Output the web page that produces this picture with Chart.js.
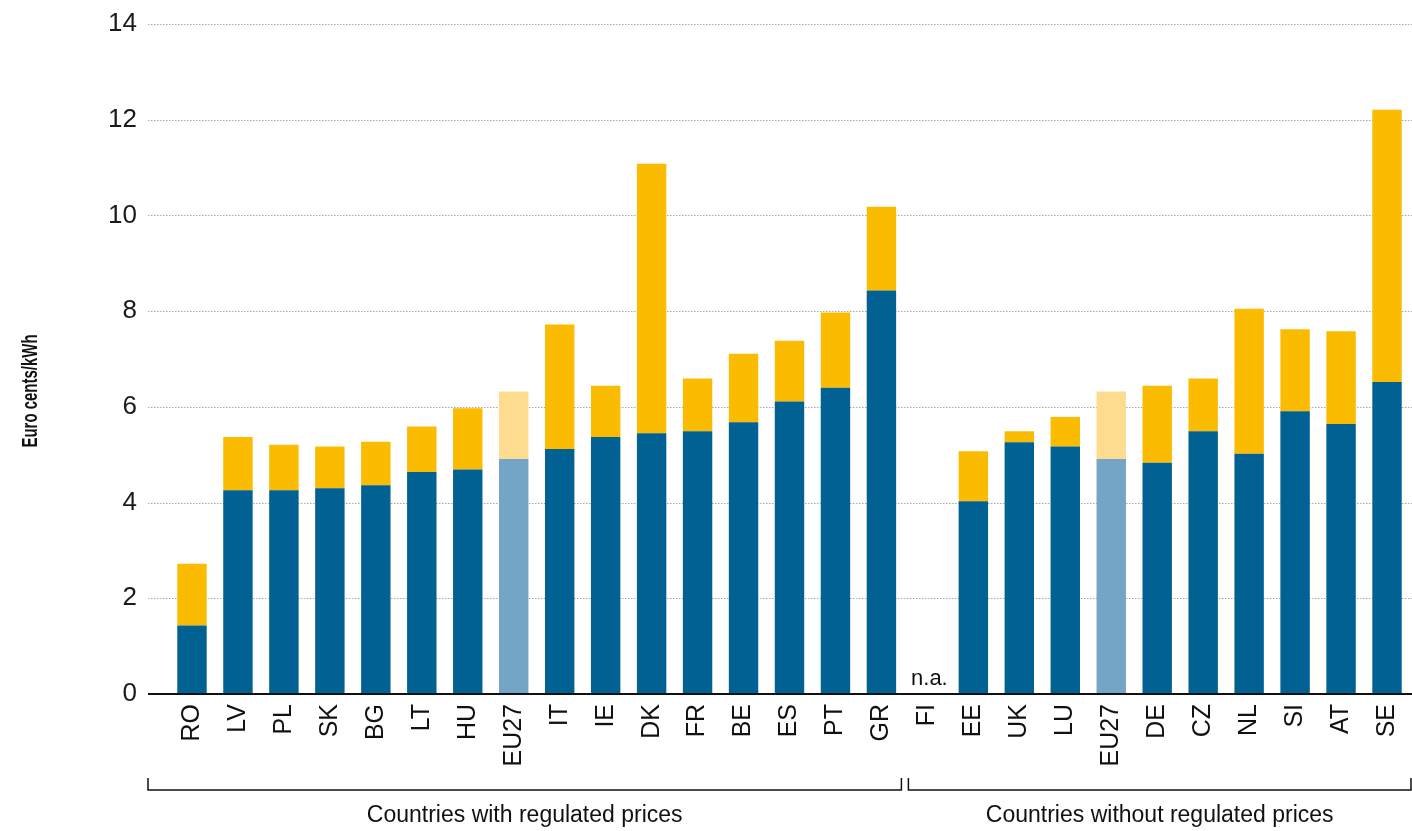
<!DOCTYPE html>
<html>
<head>
<meta charset="utf-8">
<script src="https://cdn.jsdelivr.net/npm/chart.js@4/dist/chart.umd.min.js"></script>
<style>
  html, body { margin: 0; padding: 0; background: #fff; }
  #wrap { width: 1412px; height: 831px; }
</style>
</head>
<body>
<div id="wrap"><canvas id="priceChart"></canvas></div>
<script>
// values (euro cents/kWh)
const countries = ['RO', 'LV', 'PL', 'SK', 'BG', 'LT', 'HU', 'EU27', 'IT', 'IE', 'DK', 'FR', 'BE', 'ES', 'PT', 'GR',
  'FI', 'EE', 'UK', 'LU', 'EU27', 'DE', 'CZ', 'NL', 'SI', 'AT', 'SE'];
const lowerPart = [1.43, 4.26, 4.26, 4.30, 4.36, 4.64, 4.69, 4.91, 5.12, 5.37, 5.45, 5.49, 5.68, 6.11, 6.40, 8.43,
  null, 4.03, 5.26, 5.17, 4.91, 4.83, 5.49, 5.02, 5.91, 5.64, 6.52];
const upperPart = [1.29, 1.11, 0.95, 0.87, 0.91, 0.95, 1.28, 1.41, 2.60, 1.07, 5.63, 1.10, 1.43, 1.27, 1.57, 1.75,
  null, 1.04, 0.23, 0.62, 1.41, 1.61, 1.10, 3.03, 1.71, 1.94, 5.69];
const yTicks = [0, 2, 4, 6, 8, 10, 12, 14];
const yTitle = 'Euro cents/kWh';
const groups = [
  { label: 'Countries with regulated prices', from: 0, to: 15 },
  { label: 'Countries without regulated prices', from: 16, to: 26 }
];
const naLabel = 'n.a.';

const FONT = "'Liberation Sans', Arial, sans-serif";
const NARROW = "'Liberation Sans Narrow', 'Arial Narrow', 'Liberation Sans', sans-serif";
const blue = countries.map(c => c === 'EU27' ? '#74a5c6' : '#006192');
const yellow = countries.map(c => c === 'EU27' ? '#fedc8f' : '#fbbb00');

const extras = {
  id: 'extras',
  beforeDatasetsDraw(chart) {
    const { ctx, scales: { y } } = chart;
    ctx.save();
    ctx.strokeStyle = '#a8a8a8';
    ctx.lineWidth = 1;
    ctx.setLineDash([1.5, 1.5]);
    yTicks.forEach(v => {
      if (v === 0) return;
      const py = Math.round(y.getPixelForValue(v)) + 0.5;
      ctx.beginPath();
      ctx.moveTo(148, py);
      ctx.lineTo(1412, py);
      ctx.stroke();
    });
    ctx.restore();
  },
  afterDatasetsDraw(chart) {
    const { ctx, scales: { x, y } } = chart;
    ctx.save();
    // baseline
    const py0 = y.getPixelForValue(0);
    ctx.strokeStyle = '#111';
    ctx.lineWidth = 2;
    ctx.beginPath();
    ctx.moveTo(148, py0);
    ctx.lineTo(1412, py0);
    ctx.stroke();

    // n.a. marker
    const naIdx = lowerPart.findIndex(v => v === null);
    ctx.fillStyle = '#111';
    ctx.font = '22px ' + FONT;
    ctx.textAlign = 'center';
    ctx.textBaseline = 'bottom';
    ctx.fillText(naLabel, x.getPixelForValue(naIdx) + 2, py0 - 4);

    // group brackets
    const half = (x.getPixelForValue(1) - x.getPixelForValue(0)) / 2;
    const by = 790;
    ctx.lineWidth = 1.5;
    ctx.font = '23px ' + FONT;
    groups.forEach((g, i) => {
      const left = i === 0 ? 148 : x.getPixelForValue(g.from) - half + 4;
      const right = i === groups.length - 1 ? 1411 : x.getPixelForValue(g.to) + half - 3;
      ctx.beginPath();
      ctx.moveTo(left, by - 12);
      ctx.lineTo(left, by);
      ctx.lineTo(right, by);
      ctx.lineTo(right, by - 12);
      ctx.stroke();
      ctx.fillText(g.label, (left + right) / 2, 827);
    });

    // y title, condensed like the original
    ctx.translate(31, 391);
    ctx.rotate(-Math.PI / 2);
    ctx.scale(0.68, 1);
    ctx.font = 'bold 22px ' + NARROW;
    ctx.textBaseline = 'middle';
    ctx.fillText(yTitle, 0, 0);
    ctx.restore();
  }
};

new Chart(document.getElementById('priceChart'), {
  type: 'bar',
  data: {
    labels: countries,
    datasets: [{
      label: 'Lower component',
      data: lowerPart,
      backgroundColor: blue,
      barPercentage: 0.64,
      categoryPercentage: 1
    }, {
      label: 'Upper component',
      data: upperPart,
      backgroundColor: yellow,
      barPercentage: 0.64,
      categoryPercentage: 1
    }]
  },
  options: {
    responsive: true,
    maintainAspectRatio: false,
    animation: false,
    layout: { padding: { top: 24, right: 2, left: 0, bottom: 0 } },
    plugins: { legend: { display: false }, tooltip: { enabled: false } },
    scales: {
      x: {
        stacked: true,
        grid: { display: false, drawTicks: false },
        border: { display: false },
        ticks: {
          color: '#111',
          font: { family: NARROW, size: 25 },
          minRotation: 90,
          maxRotation: 90,
          padding: 10,
          autoSkip: false
        },
        afterFit(scale) {
          scale.height = 137;
          scale.paddingLeft = 0;
          scale.paddingRight = 0;
        }
      },
      y: {
        stacked: true,
        min: 0,
        max: 14,
        grid: { display: false, drawTicks: false },
        border: { display: false },
        ticks: {
          stepSize: 2,
          color: '#1a1a1a',
          padding: 32,
          font: { family: NARROW, size: 26 }
        },
        afterFit(scale) {
          scale.width = 169;
          scale.paddingTop = 0;
          scale.paddingBottom = 0;
        }
      }
    }
  },
  plugins: [extras]
});
</script>
</body>
</html>
